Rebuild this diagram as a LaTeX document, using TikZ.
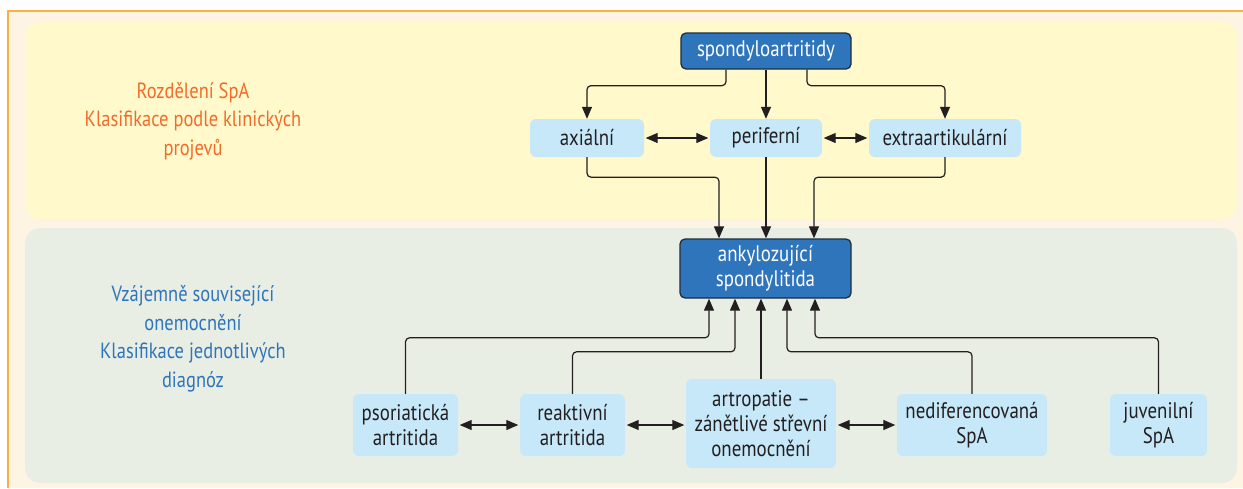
\documentclass[tikz,border=0pt]{standalone}
\usepackage{fontspec}
\setmainfont[FakeStretch=0.84]{PT Sans}
\usetikzlibrary{arrows.meta}
\definecolor{dkblue}{HTML}{2E75BB}
\definecolor{navy}{HTML}{1E2D40}
\definecolor{ltblue}{HTML}{C6E8F8}
\definecolor{txt}{HTML}{231F20}
\definecolor{orng}{HTML}{F26B2A}
\definecolor{cream}{HTML}{FDF4E3}
\definecolor{frame}{HTML}{FBB040}
\definecolor{yel}{HTML}{FFF9CC}
\definecolor{grn}{HTML}{E9EEE4}
\tikzset{
  dk/.style={fill=dkblue, draw=navy, line width=1.3pt, rounded corners=5pt, text=white, align=center, inner sep=0pt, font=\fontsize{22.5}{25}\selectfont},
  lt/.style={fill=ltblue, rounded corners=6pt, text=txt, align=center, inner sep=0pt, font=\fontsize{22.5}{25}\selectfont},
  tip/.tip={Triangle[length=12pt,width=10pt]},
  arr/.style={-tip, line width=1.2pt, draw=txt, rounded corners=4pt},
  dbl/.style={tip-tip, line width=1.2pt, draw=txt, shorten <=1.5pt, shorten >=1.5pt},
  side/.style={align=center, font=\fontsize{22}{28.5}\selectfont}
}
\begin{document}
\begin{tikzpicture}[x=1pt,y=-1pt]
\useasboundingbox (0,0) rectangle (1243,488);
% backgrounds
\fill[cream] (8,11) rectangle (1243,488);
\draw[frame, line width=2pt] (8,488) -- (8,11) -- (1243,11);
\fill[yel, rounded corners=15pt] (25,22) rectangle (1237,219);
\fill[grn, rounded corners=15pt] (25,228) rectangle (1237,483);
% side labels
\node[side, text=orng] (l1) at (193,121) {Rozdělení SpA\\Klasifikace podle klinických\\projevů};
\node[side, text=dkblue] (l2) at (193,339) {Vzájemně související\\onemocnění\\Klasifikace jednotlivých\\diagnóz};
% nodes
\node[dk, minimum width=170pt, minimum height=36pt] (sp) at (766,51) {spondyloartritidy};
\node[lt, minimum width=114pt, minimum height=38pt] (ax) at (587,138) {axiální};
\node[lt, minimum width=112pt, minimum height=38pt] (pe) at (766,138) {periferní};
\node[lt, minimum width=152pt, minimum height=38pt] (ex) at (945,138) {extraartikulární};
\node[dk, minimum width=171pt, minimum height=59pt] (an) at (765.5,268.5) {ankylozující\\spondylitida};
\node[lt, minimum width=105pt, minimum height=62pt] (ps) at (405.5,425) {psoriatická\\artritida};
\node[lt, minimum width=105pt, minimum height=62pt] (re) at (572.5,425) {reaktivní\\artritida};
\node[lt, minimum width=150pt, minimum height=89pt] (ar) at (761,423.5) {artropatie –\\zánětlivé střevní\\onemocnění};
\node[lt, minimum width=150pt, minimum height=62pt] (nd) at (972,425) {nediferencovaná\\SpA};
\node[lt, minimum width=97pt, minimum height=62pt] (ju) at (1158.5,425) {juvenilní\\SpA};
% top connectors
\draw[arr] ([xshift=-40pt]sp.south) -- ++(0,16) -| (ax.north);
\draw[arr] (sp.south) -- (pe.north);
\draw[arr] ([xshift=41pt]sp.south) -- ++(0,16) -| (ex.north);
\draw[dbl] (ax.east) -- (pe.west);
\draw[dbl] (pe.east) -- (ex.west);
\draw[arr] (ax.south) -- ++(0,20) -| ([xshift=-46.5pt]an.north);
\draw[arr] (pe.south) -- (pe.south |- an.north);
\draw[arr] (ex.south) -- ++(0,20) -| ([xshift=48.5pt]an.north);
% bottom connectors
\draw[arr] (ps.north) -- ++(0,-56) -| ([xshift=-56.5pt]an.south);
\draw[arr] (re.north) -- ++(0,-42) -| ([xshift=-30.5pt]an.south);
\draw[arr] (ar.north) -- (ar.north |- an.south);
\draw[arr] (nd.north) -- ++(0,-42) -| ([xshift=21.5pt]an.south);
\draw[arr] (ju.north) -- ++(0,-56) -| ([xshift=49.5pt]an.south);
\draw[dbl] (ps.east) -- (re.west);
\draw[dbl] (re.east) -- (re.east -| ar.west);
\draw[dbl] (nd.west -| ar.east) -- (nd.west);
\end{tikzpicture}
\end{document}
